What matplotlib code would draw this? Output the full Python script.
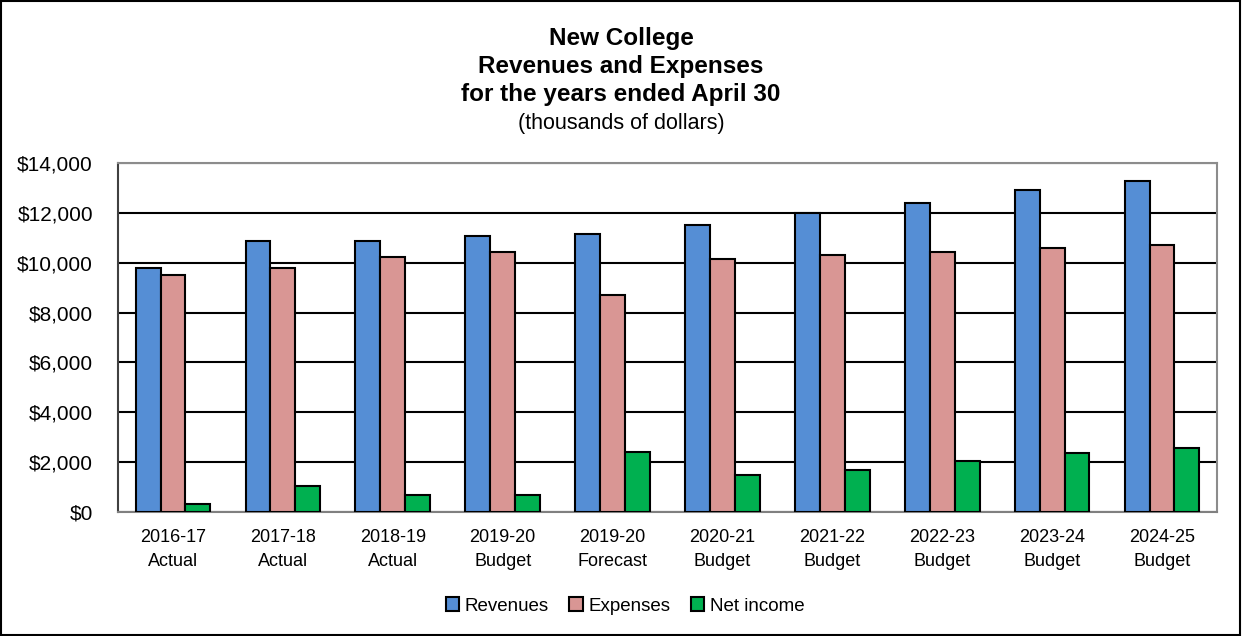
import matplotlib.pyplot as plt
import numpy as np
from matplotlib.patches import Rectangle

plt.rcParams['font.family'] = ['Liberation Sans', 'DejaVu Sans']

# Data (thousands of dollars)
years = ['2016-17', '2017-18', '2018-19', '2019-20', '2019-20',
         '2020-21', '2021-22', '2022-23', '2023-24', '2024-25']
kinds = ['Actual', 'Actual', 'Actual', 'Budget', 'Forecast',
         'Budget', 'Budget', 'Budget', 'Budget', 'Budget']
revenues = [9780, 10890, 10880, 11080, 11160, 11520, 11990, 12410, 12920, 13280]
expenses = [9490, 9780, 10210, 10430, 8690, 10130, 10290, 10440, 10580, 10710]
net_income = [310, 1040, 680, 670, 2410, 1480, 1690, 2060, 2350, 2550]

series = [('Revenues', revenues, '#558ED5'),
          ('Expenses', expenses, '#D99694'),
          ('Net income', net_income, '#00B050')]

fig = plt.figure(figsize=(12.42, 6.36), dpi=100)
ax = fig.add_axes([118/1242, 1-512/636, (1217-118)/1242, (512-163)/636])

x = np.arange(len(years))
w = 0.226
for i, (name, vals, col) in enumerate(series):
    ax.bar(x + (i-1)*w, vals, width=w, color=col, edgecolor='black',
           linewidth=1.5, label=name, zorder=3)

ax.set_xlim(-0.5, len(years)-0.5)
ax.set_ylim(0, 14000)
ax.set_yticks(np.arange(0, 14001, 2000))
ax.set_yticklabels([f'${v:,.0f}' for v in np.arange(0, 14001, 2000)], fontsize=15)
ax.set_xticks(x)
ax.set_xticklabels([f'{y}\n{k}' for y, k in zip(years, kinds)], fontsize=13,
                   linespacing=1.55)
ax.tick_params(axis='both', length=0)
ax.tick_params(axis='y', pad=18)
ax.tick_params(axis='x', pad=12)
ax.grid(axis='y', color='black', linewidth=1.5, zorder=0)

ax.spines['top'].set_color('#8c8c8c')
ax.spines['right'].set_color('#8c8c8c')
ax.spines['left'].set_color('#404040')
ax.spines['bottom'].set_color('#808080')
for s in ax.spines.values():
    s.set_linewidth(1.5)

# Titles
fig.text(0.5, 1-38/636, 'New College', ha='center', va='center',
         fontsize=17.5, fontweight='bold')
fig.text(0.5, 1-67/636, 'Revenues and Expenses', ha='center', va='center',
         fontsize=17.5, fontweight='bold')
fig.text(0.5, 1-95/636, 'for the years ended April 30', ha='center', va='center',
         fontsize=17.5, fontweight='bold')
fig.text(0.5, 1-123/636, '(thousands of dollars)', ha='center', va='center',
         fontsize=15.5)

fig.legend(loc='center', bbox_to_anchor=(625/1242, 1-606/636), ncol=3,
           frameon=False, fontsize=13.5, handlelength=0.7, handleheight=0.7,
           handletextpad=0.3, columnspacing=1.1)

# outer border
fig.patches.append(Rectangle((0.001, 0.001), 0.997, 0.997, transform=fig.transFigure,
                             fill=False, edgecolor='black', linewidth=1.5))

fig.savefig('out.png', dpi=100)
